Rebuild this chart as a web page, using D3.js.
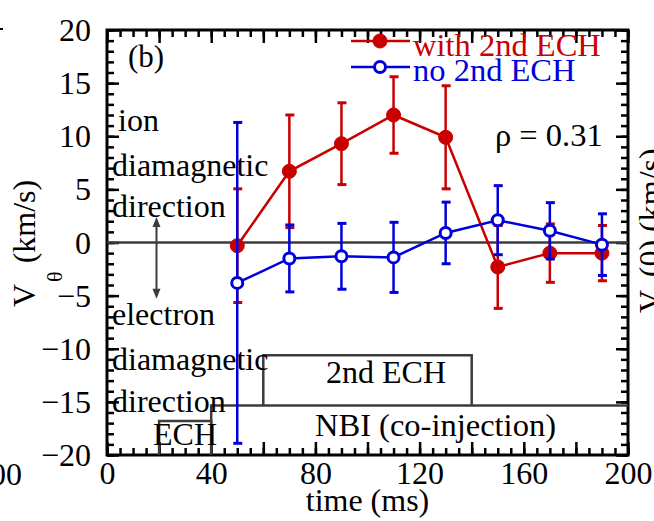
<!DOCTYPE html>
<html><head><meta charset="utf-8">
<script src="https://cdn.jsdelivr.net/npm/d3@7"></script>
<style>
body{margin:0;background:#fff}
svg{display:block}
text{font-family:"Liberation Serif","Times New Roman",serif;}
</style>
</head><body>
<svg id="c" width="654" height="521"></svg>
<script>
// ---- data ----
const times = [50, 70, 90, 110, 130, 150, 170, 190];
const withECH = [-0.3, 6.7, 9.3, 12.0, 9.9, -2.3, -1.0, -1.0];
const withECHErr = [5.35, 5.3, 3.85, 3.6, 4.85, 3.9, 2.75, 2.6];
const noECH = [-3.8, -1.5, -1.3, -1.4, 0.9, 2.1, 1.1, -0.2];
const noECHErr = [15.1, 3.15, 3.1, 3.3, 2.9, 3.25, 2.65, 2.9];
const seriesNames = ["with 2nd ECH", "no 2nd ECH"];
const xTickLabels = [0, 40, 80, 120, 160, 200];
const yTickLabels = [-20, -15, -10, -5, 0, 5, 10, 15, 20];

const red = "#c80000", blue = "#0000dc", gray = "#3c3c3c";

const svg = d3.select("#c");
const L = 107, R = 628, T = 30, B = 455;
const x = d3.scaleLinear().domain([0, 200]).range([L, R]);
const y = d3.scaleLinear().domain([-20, 20]).range([B, T]);

// ---- ticks ----
function tickAxis(axisFn, scale, vals, size, transform) {
  const g = svg.append("g").attr("transform", transform)
    .call(axisFn(scale).tickValues(vals).tickSize(size).tickFormat(""));
  g.select(".domain").remove();
  g.selectAll(".tick line").attr("stroke", "#000").attr("stroke-width", 2.5);
  return g;
}
const xMinor = d3.range(0, 201, 5), xMajor = d3.range(0, 201, 20);
const yMinor = d3.range(-20, 21, 1), yMajor = d3.range(-20, 21, 5);
tickAxis(d3.axisBottom, x, xMinor, -7, `translate(0,${B})`);
tickAxis(d3.axisBottom, x, xMajor, -13, `translate(0,${B})`);
tickAxis(d3.axisTop, x, xMinor, -7, `translate(0,${T})`);
tickAxis(d3.axisTop, x, xMajor, -13, `translate(0,${T})`);
tickAxis(d3.axisLeft, y, yMinor, -7, `translate(${L},0)`);
tickAxis(d3.axisLeft, y, yMajor, -12, `translate(${L},0)`);
tickAxis(d3.axisRight, y, yMinor, -7, `translate(${R},0)`);
tickAxis(d3.axisRight, y, yMajor, -12, `translate(${R},0)`);

// tick labels
const gx = svg.append("g").attr("transform", `translate(0,${B})`)
  .call(d3.axisBottom(x).tickValues(xTickLabels).tickSize(0).tickPadding(0).tickFormat(d3.format("d")));
gx.select(".domain").remove();
gx.selectAll("text").attr("font-size", 32).attr("fill", "#000")
  .attr("font-family", "Liberation Serif").attr("dy", null).attr("y", 29);
const gy = svg.append("g").attr("transform", `translate(${L},0)`)
  .call(d3.axisLeft(y).tickValues(yTickLabels).tickSize(0).tickPadding(16).tickFormat(d3.format("d")));
gy.select(".domain").remove();
gy.selectAll("text").attr("font-size", 32).attr("fill", "#000")
  .attr("font-family", "Liberation Serif").attr("dy", "0.33em");

// frame
svg.append("rect").attr("x", L).attr("y", T).attr("width", R - L).attr("height", B - T)
  .attr("fill", "none").attr("stroke", "#000").attr("stroke-width", 3);

// zero line
svg.append("line").attr("x1", x(0)).attr("x2", x(200)).attr("y1", y(0)).attr("y2", y(0))
  .attr("stroke", gray).attr("stroke-width", 2.5);

// heating phase boxes
function pathRaw(d){ return svg.append("path").attr("d", d).attr("stroke", gray).attr("stroke-width", 2.5).attr("fill", "none"); }
pathRaw(`M${x(20)},${y(-20)}V${y(-16.8)}H${x(40)}V${y(-20)}`);          // ECH 20-40 ms
pathRaw(`M${x(40)},${y(-20)}V${y(-15.35)}H${x(200)}`);                  // NBI 40-200 ms
pathRaw(`M${x(60)},${y(-15.35)}V${y(-10.6)}H${x(140)}V${y(-15.35)}`);  // 2nd ECH 60-140 ms

// left annotations
const ann = [
  ["ion", 118, 131], ["diamagnetic", 112, 176], ["direction", 112, 217],
  ["electron", 112, 325], ["diamagnetic", 112, 370], ["direction", 112, 412]
];
svg.selectAll("text.ann").data(ann).enter().append("text").attr("class", "ann")
  .attr("x", d => d[1]).attr("y", d => d[2]).attr("font-size", 32).attr("fill", "#000").text(d => d[0]);

svg.append("text").attr("x", 326).attr("y", 383).attr("font-size", 32).text("2nd ECH");
svg.append("text").attr("x", 315).attr("y", 436).attr("font-size", 32.5).text("NBI (co-injection)");
svg.append("text").attr("x", 153).attr("y", 445).attr("font-size", 32).text("ECH");
svg.append("text").attr("x", 128).attr("y", 67).attr("font-size", 31).text("(b)");
svg.append("text").attr("x", 495).attr("y", 146).attr("font-size", 32.5).text("ρ = 0.31");

// double arrow
const ax = x(19), ay1 = y(2.4), ay2 = y(-5.3);
svg.append("line").attr("x1", ax).attr("x2", ax).attr("y1", ay1 + 4).attr("y2", ay2 - 4)
  .attr("stroke", gray).attr("stroke-width", 2);
svg.append("path").attr("d", `M${ax},${ay1}l-4,10h8z`).attr("fill", gray);
svg.append("path").attr("d", `M${ax},${ay2}l-4,-10h8z`).attr("fill", gray);

// ---- series ----
function drawSeries(vals, errs, color, filled) {
  const g = svg.append("g");
  const pts = times.map((t, i) => ({t, v: vals[i], e: errs[i]}));
  g.append("path").datum(pts)
    .attr("d", d3.line().x(d => x(d.t)).y(d => y(d.v)))
    .attr("fill", "none").attr("stroke", color).attr("stroke-width", 2.5);
  const eb = g.selectAll("g.eb").data(pts).enter().append("g");
  eb.append("line").attr("x1", d => x(d.t)).attr("x2", d => x(d.t))
    .attr("y1", d => y(d.v + d.e)).attr("y2", d => y(d.v - d.e))
    .attr("stroke", color).attr("stroke-width", 2.5);
  [1, -1].forEach(s => {
    eb.append("line").attr("x1", d => x(d.t) - 4).attr("x2", d => x(d.t) + 5)
      .attr("y1", d => y(d.v + s * d.e)).attr("y2", d => y(d.v + s * d.e))
      .attr("stroke", color).attr("stroke-width", 3);
  });
  g.selectAll("circle").data(pts).enter().append("circle")
    .attr("cx", d => x(d.t)).attr("cy", d => y(d.v))
    .attr("r", filled ? 7 : 5.5)
    .attr("fill", filled ? color : "#fff").attr("stroke", color).attr("stroke-width", filled ? 1 : 3);
}
drawSeries(withECH, withECHErr, red, true);
drawSeries(noECH, noECHErr, blue, false);

// ---- legend ----
const leg = [
  {name: seriesNames[0], color: red, filled: true, ly: 41, ty: 56},
  {name: seriesNames[1], color: blue, filled: false, ly: 67, ty: 81}
];
leg.forEach(d => {
  svg.append("line").attr("x1", 351).attr("x2", 410).attr("y1", d.ly).attr("y2", d.ly)
    .attr("stroke", d.color).attr("stroke-width", 2.5);
  svg.append("circle").attr("cx", 380).attr("cy", d.ly).attr("r", d.filled ? 7 : 5.5)
    .attr("fill", d.filled ? d.color : "#fff").attr("stroke", d.color).attr("stroke-width", d.filled ? 1 : 3);
  svg.append("text").attr("x", 413).attr("y", d.ty).attr("font-size", 32.5).attr("fill", d.color).text(d.name);
});

// ---- axis titles ----
svg.append("text").attr("x", x(100)).attr("y", 511).attr("text-anchor", "middle")
  .attr("font-size", 32).text("time (ms)");
const yl = svg.append("text").attr("transform", "translate(35,307) rotate(-90)").attr("font-size", 32);
yl.append("tspan").text("V");
yl.append("tspan").attr("font-size", 22).attr("dy", 27).attr("dx", 2).text("θ");
yl.append("tspan").attr("dy", -27).text(" (km/s)");

// clipped neighbour-panel remnants
svg.append("text").attr("x", 22).attr("y", 485).attr("text-anchor", "end").attr("font-size", 32).text("200");
const yr = svg.append("text").attr("transform", "translate(661,313) rotate(-90)").attr("font-size", 32);
yr.append("tspan").text("V");
yr.append("tspan").attr("font-size", 22).attr("dy", 28).text("φ");
yr.append("tspan").attr("dy", -28).text("(0) (km/s)");
svg.append("line").attr("x1", 0).attr("x2", 3).attr("y1", 29).attr("y2", 29).attr("stroke", "#000").attr("stroke-width", 2);
</script>
</body></html>
